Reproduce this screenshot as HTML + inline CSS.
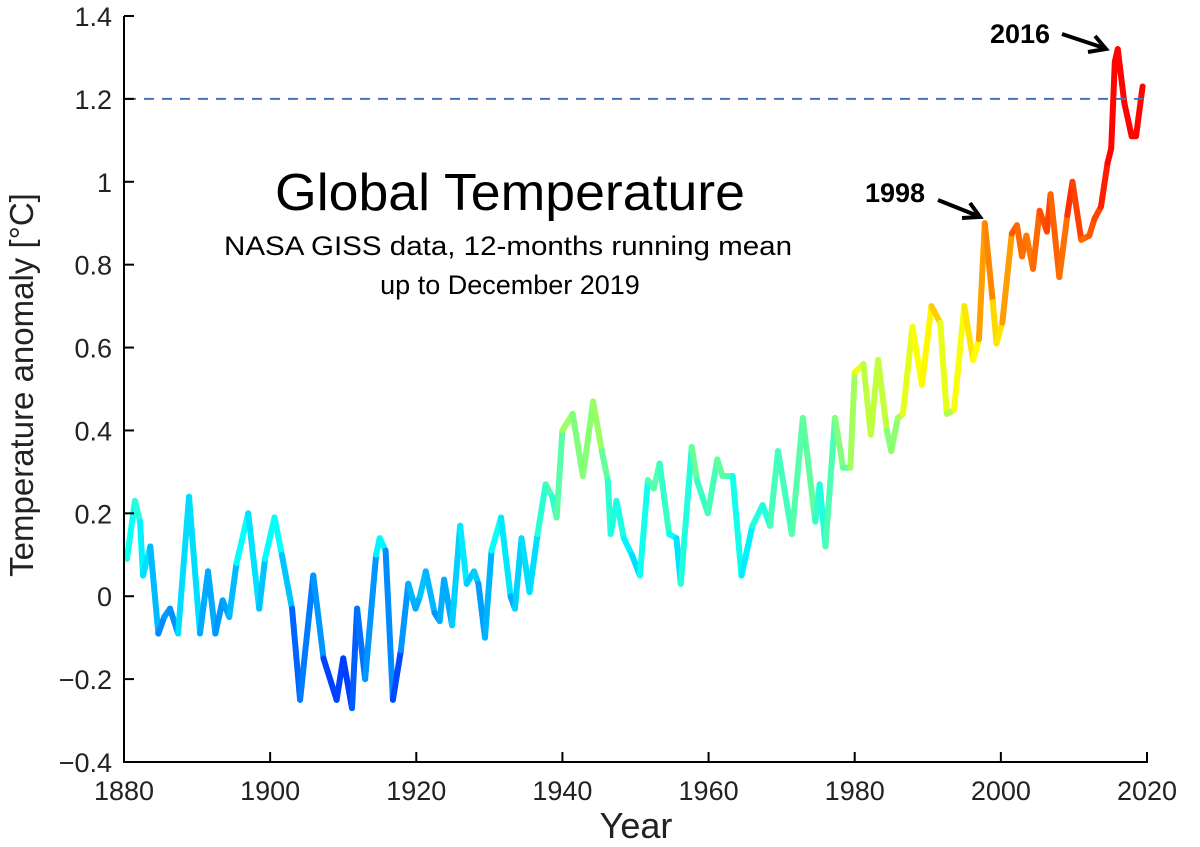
<!DOCTYPE html>
<html><head><meta charset="utf-8">
<style>
html,body{margin:0;padding:0;background:#fff;}
svg{display:block;}
text{font-family:"Liberation Sans",Arial,sans-serif;}
</style></head>
<body>
<svg id="chart" width="1200" height="847" viewBox="0 0 1200 847" xmlns="http://www.w3.org/2000/svg">
<g id="series"></g>
<g id="axes"></g>
<text x="510" y="210" font-size="52" text-anchor="middle" fill="#000" textLength="470" lengthAdjust="spacingAndGlyphs">Global Temperature</text>
<text x="508" y="255" font-size="27" text-anchor="middle" fill="#000" textLength="568" lengthAdjust="spacingAndGlyphs">NASA GISS data, 12-months running mean</text>
<text x="510" y="294" font-size="27" text-anchor="middle" fill="#000">up to December 2019</text>
<text transform="translate(33,385) rotate(-90)" font-size="33" text-anchor="middle" fill="#222">Temperature anomaly [°C]</text>
<text x="636" y="838" font-size="36" text-anchor="middle" fill="#222">Year</text>
<text x="895" y="202" font-size="27" font-weight="bold" text-anchor="middle" fill="#000">1998</text>
<text x="1020" y="43" font-size="27" font-weight="bold" text-anchor="middle" fill="#000">2016</text>
<g stroke="#000" stroke-width="4" fill="none">
<line x1="938" y1="200" x2="978" y2="216"/><polyline points="962,218 980,217 970,203"/></g>
<g stroke="#000" stroke-width="4" fill="none">
<line x1="1062" y1="34" x2="1104" y2="48"/><polyline points="1088,52 1106,49 1095,36"/></g>
</svg>
<script>
const years=[1880.4,1881.5,1882.2,1882.6,1883.6,1884.7,1885.5,1886.3,1887.4,1888.9,1890.4,1891.5,1892.5,1893.5,1894.4,1895.4,1897.0,1898.5,1899.3,1900.6,1901.6,1903.0,1904.1,1905.9,1907.3,1909.1,1910.0,1911.2,1911.9,1913.0,1914.5,1915.0,1915.8,1916.8,1917.9,1918.9,1919.9,1920.5,1921.3,1922.5,1923.2,1923.8,1924.9,1926.0,1926.9,1927.9,1928.5,1929.4,1930.3,1931.6,1932.9,1933.5,1934.4,1935.5,1936.6,1937.7,1938.6,1939.2,1940.0,1941.4,1942.8,1944.2,1945.4,1946.2,1946.6,1947.4,1948.4,1949.5,1950.6,1951.7,1952.5,1953.3,1954.6,1955.6,1956.2,1957.7,1958.4,1959.9,1961.2,1961.9,1963.3,1964.5,1966.0,1967.4,1968.4,1969.5,1971.4,1972.9,1974.6,1975.2,1976.0,1977.3,1978.4,1979.4,1980.0,1981.2,1982.2,1983.2,1984.4,1985.0,1985.9,1986.6,1987.9,1989.2,1990.5,1991.7,1992.6,1993.6,1995.0,1996.2,1997.0,1997.8,1998.9,1999.4,2000.2,2001.5,2002.2,2002.9,2003.5,2004.4,2005.3,2006.3,2006.8,2008.0,2009.1,2009.8,2011.0,2012.1,2012.8,2013.7,2014.6,2015.1,2015.6,2016.0,2016.9,2017.9,2018.5,2019.4];
const anomalies=[0.09,0.23,0.18,0.05,0.12,-0.09,-0.05,-0.03,-0.09,0.24,-0.09,0.06,-0.09,-0.01,-0.05,0.08,0.20,-0.03,0.09,0.19,0.10,-0.03,-0.25,0.05,-0.15,-0.25,-0.15,-0.27,-0.03,-0.20,0.10,0.14,0.11,-0.25,-0.13,0.03,-0.03,0.0,0.06,-0.04,-0.06,0.04,-0.07,0.17,0.03,0.06,0.03,-0.10,0.11,0.19,0.0,-0.03,0.14,0.01,0.15,0.27,0.24,0.19,0.40,0.44,0.29,0.47,0.35,0.28,0.15,0.23,0.14,0.10,0.05,0.28,0.26,0.32,0.15,0.14,0.03,0.36,0.28,0.20,0.33,0.29,0.29,0.05,0.17,0.22,0.17,0.35,0.15,0.43,0.18,0.27,0.12,0.43,0.31,0.31,0.54,0.56,0.39,0.57,0.40,0.35,0.43,0.44,0.65,0.51,0.70,0.66,0.44,0.45,0.70,0.57,0.62,0.90,0.71,0.61,0.66,0.875,0.895,0.82,0.87,0.79,0.93,0.88,0.97,0.77,0.92,1.00,0.86,0.87,0.91,0.94,1.045,1.08,1.29,1.32,1.19,1.11,1.11,1.23];
const yTicks=[-0.4,-0.2,0,0.2,0.4,0.6,0.8,1,1.2,1.4];
const yTickLabels=["\u22120.4","\u22120.2","0","0.2","0.4","0.6","0.8","1","1.2","1.4"];
const xTicks=[1880,1900,1920,1940,1960,1980,2000,2020];
const refLine=[1.2];

const NS="http://www.w3.org/2000/svg";
const X0=124,X1=1147,Y0=762,Y1=16;
function xs(y){return X0+(y-1880)/(2020-1880)*(X1-X0);}
function ys(v){return Y0-(v+0.4)/1.8*(Y0-Y1);}
function jet(v){
  let t=0.3+0.55*v; t=Math.max(0.16,Math.min(0.87,t));
  const c=f=>Math.round(255*Math.max(0,Math.min(1,f)));
  return `rgb(${c(1.5-Math.abs(4*t-3))},${c(1.5-Math.abs(4*t-2))},${c(1.5-Math.abs(4*t-1))})`;
}
function mk(tag,attrs,parent){const e=document.createElementNS(NS,tag);for(const k in attrs)e.setAttribute(k,attrs[k]);parent.appendChild(e);return e;}
const axes=document.getElementById('axes');
const series=document.getElementById('series');

for(const r of refLine){
  const l=mk('line',{x1:X0+2,x2:X1,y1:ys(r),y2:ys(r),stroke:'#4472c4','stroke-width':2,'stroke-dasharray':'10,8'},axes);
  
  
}
for(let i=0;i<years.length-1;i++){
  const v=(anomalies[i]+anomalies[i+1])/2;
  const s=mk('line',{x1:xs(years[i]),y1:ys(anomalies[i]),x2:xs(years[i+1]),y2:ys(anomalies[i+1]),stroke:jet(v),'stroke-width':6,'stroke-linecap':'round'},series);
  
  
}
const ya=mk('line',{x1:X0,x2:X0,y1:Y1,y2:Y0+1,stroke:'#000','stroke-width':2},axes);


const xa=mk('line',{x1:X0-1,x2:X1+1,y1:Y0,y2:Y0,stroke:'#000','stroke-width':2},axes);


yTicks.forEach((t,i)=>{
  const tk=mk('line',{x1:X0,x2:X0+10,y1:ys(t),y2:ys(t),stroke:'#000','stroke-width':2},axes);
  
  
  const tx=mk('text',{x:112,y:ys(t)+10,'font-size':27,'text-anchor':'end',fill:'#222'},axes);
  tx.textContent=yTickLabels[i];
  
  
});
xTicks.forEach(t=>{
  const tk=mk('line',{x1:xs(t),x2:xs(t),y1:Y0,y2:Y0-10,stroke:'#000','stroke-width':2},axes);
  
  
  const tx=mk('text',{x:xs(t),y:800,'font-size':27,'text-anchor':'middle',fill:'#222'},axes);
  tx.textContent=String(t);
  
  
});
</script>
</body></html>
